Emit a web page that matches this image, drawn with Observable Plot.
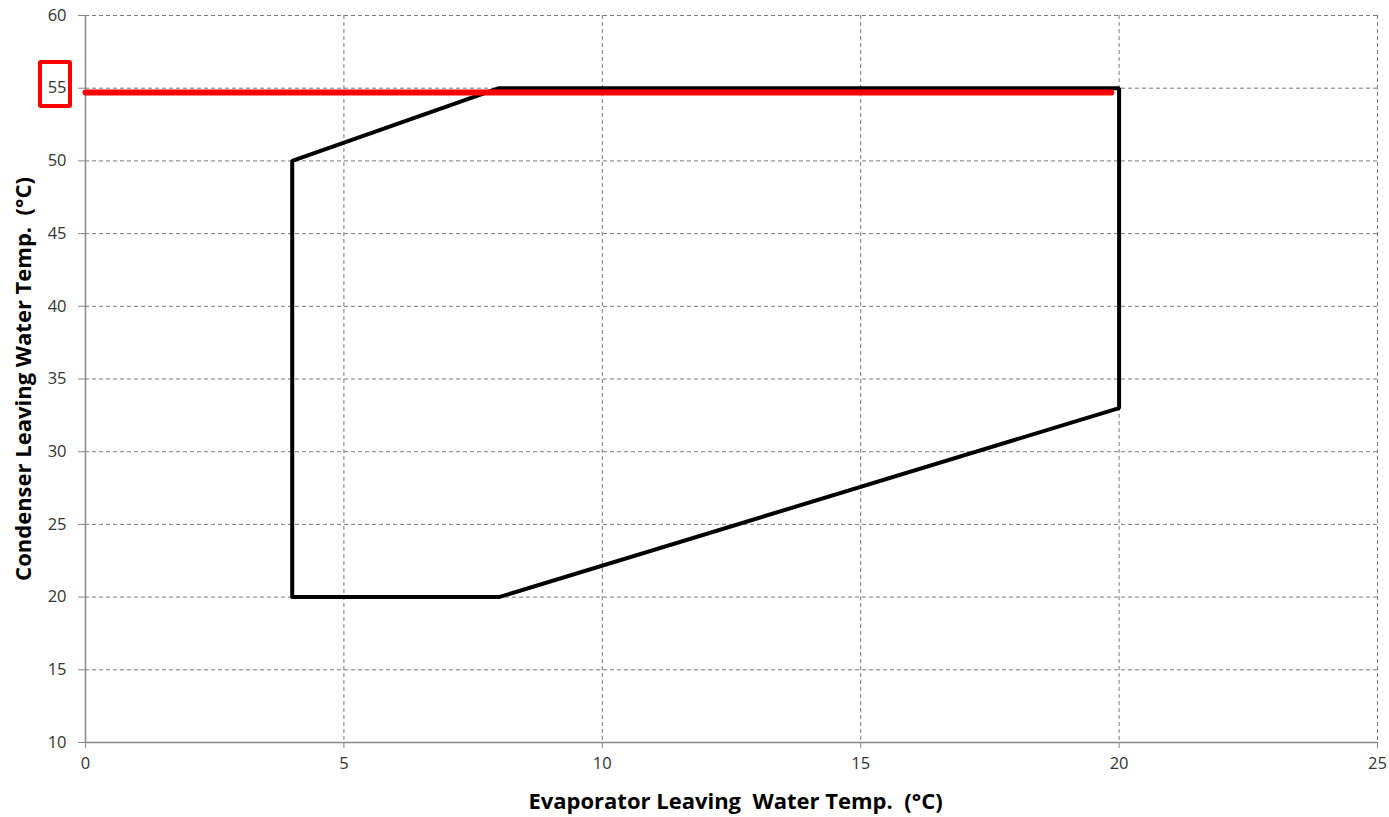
<!DOCTYPE html>
<html>
<head>
<meta charset="utf-8">
<script src="https://cdn.jsdelivr.net/npm/d3@7"></script>
<script src="https://cdn.jsdelivr.net/npm/@observablehq/plot@0.6"></script>
<style>
  body { margin: 0; background: #fff; }
  #wrap { position: relative; width: 1389px; height: 817px; }
  #box55 { position: absolute; border: 4px solid #ff0000; border-radius: 3px; box-sizing: border-box; }
</style>
</head>
<body>
<div id="wrap"></div>
<script>
// Operating envelope (Evaporator °C, Condenser °C)
const envelopeX = [4, 4, 8, 20, 20, 8, 4];
const envelopeY = [20, 50, 55, 55, 33, 20, 20];
// Red limit line
const limitX = [0, 19.85];
const limitY = [54.7, 54.7];
const xTicks = [0, 5, 10, 15, 20, 25];
const yTicks = [10, 15, 20, 25, 30, 35, 40, 45, 50, 55, 60];

const envelope = envelopeX.map((x, i) => ({x, y: envelopeY[i]}));
const limit = limitX.map((x, i) => ({x, y: limitY[i]}));

const W = 1389, H = 817;
const mL = 85, mR = 12, mT = 15, mB = 75;

const chart = Plot.plot({
  width: W, height: H,
  marginLeft: mL, marginRight: mR, marginTop: mT, marginBottom: mB,
  style: {background: "#fff", overflow: "visible", fontFamily: "'Open Sans', 'DejaVu Sans', sans-serif", fontSize: "16.5px", color: "#333"},
  x: {domain: [0, 25], ticks: xTicks, label: "Evaporator Leaving  Water Temp.  (°C)"},
  y: {domain: [10, 60], ticks: yTicks, label: "Condenser Leaving Water Temp.  (°C)"},
  marks: [
    Plot.gridX(xTicks.filter(d => d > 0), {stroke: "#7a7a7a", strokeOpacity: 1, strokeDasharray: "4,3", strokeWidth: 1}),
    Plot.gridY(yTicks.filter(d => d > 10), {stroke: "#7a7a7a", strokeOpacity: 1, strokeDasharray: "4,3", strokeWidth: 1}),
    Plot.axisX({ticks: xTicks, tickSize: 6, tickPadding: 9, stroke: "#888", fill: "#333", fontSize: 16.5,
      label: "Evaporator Leaving  Water Temp.  (°C)", labelAnchor: "center", labelOffset: 66, labelArrow: "none"}),
    Plot.axisY({ticks: yTicks, tickSize: 7, tickPadding: 12, stroke: "#888", fill: "#333", fontSize: 16.5,
      label: "Condenser Leaving Water Temp.  (°C)", labelAnchor: "center", labelOffset: 70, labelArrow: "none"}),
    Plot.ruleX([0], {stroke: "#888", strokeWidth: 1.5}),
    Plot.ruleY([10], {stroke: "#888", strokeWidth: 1.5}),
    Plot.line(envelope, {x: "x", y: "y", stroke: "#000", strokeWidth: 4, strokeLinejoin: "miter"}),
    Plot.line(limit, {x: "x", y: "y", stroke: "#ff0000", strokeWidth: 6})
  ]
});
const wrap = document.getElementById("wrap");
wrap.appendChild(chart);

const svg = d3.select(chart);
svg.selectAll("text").each(function() {
  const g = this.parentNode;
  const lab = (g && g.getAttribute && g.getAttribute("aria-label")) || "";
  if (lab.includes("axis label")) {
    this.style.fontSize = "22px";
    this.style.fontWeight = "bold";
    this.style.fill = "#000";
  } else if (lab.includes("tick label")) {
    this.style.fontSize = "16.5px";
    this.style.fill = "#333";
  }
});
svg.select('g[aria-label="x-axis label"] text').attr("dx", 4);

// red box around the "55" tick label
const ys = chart.scale("y");
const cy = ys.apply(55);
const box = document.createElement("div");
box.id = "box55";
box.style.left = "38px";
box.style.top = (cy - 28) + "px";
box.style.width = "34px";
box.style.height = "48px";
wrap.appendChild(box);
</script>
</body>
</html>
